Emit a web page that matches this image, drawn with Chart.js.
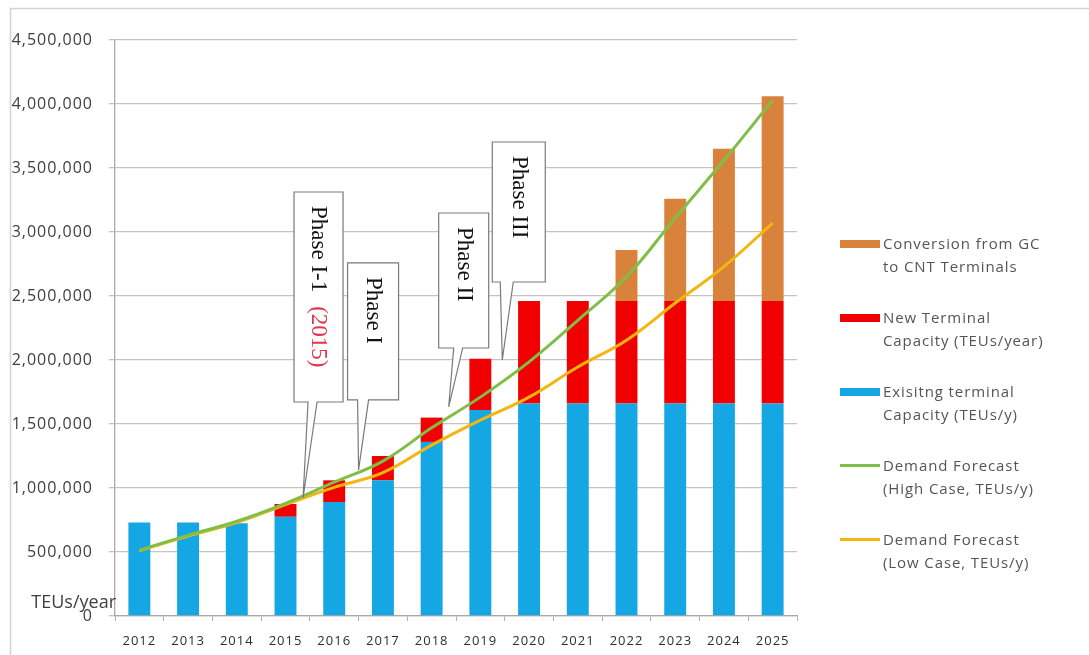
<!DOCTYPE html>
<html>
<head>
<meta charset="utf-8">
<title>Terminal capacity vs demand forecast</title>
<script src="https://cdn.jsdelivr.net/npm/chart.js@4.4.1/dist/chart.umd.min.js"></script>
<style>
    html, body {
        margin: 0;
        padding: 0;
        background: #ffffff;
    }
    #wrap {
        position: relative;
        width: 1089px;
        height: 655px;
        overflow: hidden;
    }
    #legend {
        position: absolute;
        left: 840px;
        top: 232px;
        font-family: "Open Sans", sans-serif;
        font-size: 15px;
        letter-spacing: 0.9px;
        color: #555555;
    }
    .item {
        display: flex;
        align-items: flex-start;
        margin-bottom: 28px;
        line-height: 23px;
    }
    .swatch {
        width: 40px;
        margin-right: 3px;
        flex: none;
    }
</style>
</head>
<body>
<div id="wrap">
    <canvas id="chart" width="1089" height="655"></canvas>
    <div id="legend"></div>
</div>
<script>
const years = [
    "2012", "2013", "2014", "2015", "2016", "2017", "2018",
    "2019", "2020", "2021", "2022", "2023", "2024", "2025"
];

const existingCapacity = [
    730000, 730000, 725000, 775000, 890000, 1060000, 1360000,
    1610000, 1660000, 1660000, 1660000, 1660000, 1660000, 1660000
];

const newCapacity = [
    0, 0, 0, 100000, 170000, 190000, 190000,
    400000, 800000, 800000, 800000, 800000, 800000, 800000
];

const conversionCapacity = [
    0, 0, 0, 0, 0, 0, 0,
    0, 0, 0, 400000, 800000, 1190000, 1600000
];

const highDemand = [
    515000, 630000, 740000, 880000, 1045000, 1210000, 1470000,
    1710000, 1985000, 2310000, 2650000, 3110000, 3560000, 4030000
];

const lowDemand = [
    510000, 625000, 730000, 870000, 1005000, 1120000, 1335000,
    1530000, 1710000, 1945000, 2155000, 2445000, 2730000, 3070000
];

// callouts: tip anchored on the scales (year index, TEUs), box offset in px from the tip
const phaseCallouts = [
    { text: "Phase I-1", extra: "(2015)", at: 3.36, value: 922000,
      left: -9, width: 49, top: -306, height: 210, base: [5, 14] },
    { text: "Phase I", at: 4.5, value: 1141000,
      left: -11, width: 51, top: -207, height: 137, base: [-1, 10] },
    { text: "Phase II", at: 6.35, value: 1633000,
      left: -10, width: 50, top: -194, height: 135, base: [5, 14] },
    { text: "Phase III", at: 7.45, value: 2000000,
      left: -10, width: 53, top: -218, height: 140, base: [-2, 11] }
];

const legendOrder = [4, 3, 2, 0, 1];

const extrasPlugin = {
    id: "extras",
    beforeDraw(chart) {
        const ctx = chart.ctx;
        ctx.save();
        ctx.strokeStyle = "#d2d2d2";
        ctx.lineWidth = 1.5;
        ctx.strokeRect(10.5, 8.5, 1200, 800);
        ctx.restore();
        // axis labels in the original are loosely spaced
        ctx.letterSpacing = "1px";
    },
    beforeDatasetsDraw(chart) {
        chart.ctx.letterSpacing = "0px";
    },
    afterDatasetsDraw(chart) {
        const ctx = chart.ctx;
        const x = chart.scales.x;
        const y = chart.scales.y;

        phaseCallouts.forEach((c) => {
            const tx = x.getPixelForValue(c.at);
            const ty = y.getPixelForValue(c.value);
            const l = tx + c.left;
            const r = l + c.width;
            const t = ty + c.top;
            const b = t + c.height;

            ctx.save();
            ctx.beginPath();
            ctx.moveTo(l, t);
            ctx.lineTo(r, t);
            ctx.lineTo(r, b);
            ctx.lineTo(tx + c.base[1], b);
            ctx.lineTo(tx, ty);
            ctx.lineTo(tx + c.base[0], b);
            ctx.lineTo(l, b);
            ctx.closePath();
            ctx.fillStyle = "#ffffff";
            ctx.fill();
            ctx.strokeStyle = "#7a7a7a";
            ctx.lineWidth = 1.2;
            ctx.stroke();

            ctx.translate((l + r) / 2, t + 14);
            ctx.rotate(Math.PI / 2);
            ctx.font = "23px 'Liberation Serif', serif";
            ctx.textAlign = "left";
            ctx.textBaseline = "middle";
            ctx.fillStyle = "#111111";
            ctx.fillText(c.text, 0, 0);
            if (c.extra) {
                const w = ctx.measureText(c.text).width;
                ctx.fillStyle = "#e0344a";
                ctx.fillText(c.extra, w + 14, 0);
            }
            ctx.restore();
        });

        ctx.save();
        ctx.font = "18px 'Open Sans', sans-serif";
        ctx.fillStyle = "#404040";
        ctx.textAlign = "right";
        ctx.textBaseline = "middle";
        ctx.fillText("TEUs/year", chart.chartArea.left + 1, chart.chartArea.bottom - 13);
        ctx.restore();
    }
};

function buildLegend(chart) {
    const box = document.getElementById("legend");
    box.innerHTML = "";
    legendOrder.forEach((i) => {
        const ds = chart.data.datasets[i];
        const item = document.createElement("div");
        item.className = "item";

        const sw = document.createElement("div");
        sw.className = "swatch";
        const h = ds.type === "line" ? 3 : 8;
        sw.style.height = h + "px";
        sw.style.marginTop = ((23 - h) / 2) + "px";
        sw.style.background = ds.type === "line" ? ds.borderColor : ds.backgroundColor;

        const txt = document.createElement("div");
        txt.innerHTML = ds.legendLines.join("<br>");

        item.appendChild(sw);
        item.appendChild(txt);
        box.appendChild(item);
    });
}

const chart = new Chart(document.getElementById("chart"), {
    data: {
        labels: years,
        datasets: [
            {
                type: "line",
                label: "Demand Forecast (High Case, TEUs/y)",
                legendLines: ["Demand Forecast", "(High Case, TEUs/y)"],
                data: highDemand,
                stack: "high",
                borderColor: "#80bf47",
                borderWidth: 3,
                pointRadius: 0,
                tension: 0.4,
                fill: false
            },
            {
                type: "line",
                label: "Demand Forecast (Low Case, TEUs/y)",
                legendLines: ["Demand Forecast", "(Low Case, TEUs/y)"],
                data: lowDemand,
                stack: "low",
                borderColor: "#f5b50f",
                borderWidth: 3,
                pointRadius: 0,
                tension: 0.4,
                fill: false
            },
            {
                type: "bar",
                label: "Exisitng terminal Capacity (TEUs/y)",
                legendLines: ["Exisitng terminal", "Capacity (TEUs/y)"],
                data: existingCapacity,
                backgroundColor: "#15a6e4",
                stack: "cap",
                barPercentage: 0.45,
                categoryPercentage: 1
            },
            {
                type: "bar",
                label: "New Terminal Capacity (TEUs/year)",
                legendLines: ["New Terminal", "Capacity (TEUs/year)"],
                data: newCapacity,
                backgroundColor: "#f00000",
                stack: "cap",
                barPercentage: 0.45,
                categoryPercentage: 1
            },
            {
                type: "bar",
                label: "Conversion from GC to CNT Terminals",
                legendLines: ["Conversion from GC", "to CNT Terminals"],
                data: conversionCapacity,
                backgroundColor: "#d9823b",
                stack: "cap",
                barPercentage: 0.45,
                categoryPercentage: 1
            }
        ]
    },
    options: {
        responsive: false,
        animation: false,
        layout: {
            padding: { left: 0, right: 292, top: 40, bottom: 0 }
        },
        scales: {
            x: {
                stacked: true,
                offset: true,
                afterFit(scale) { scale.height = 39; },
                grid: {
                    offset: true,
                    drawOnChartArea: false,
                    drawTicks: true,
                    tickLength: 5,
                    color: "#b0b0b0"
                },
                border: { color: "#a8a8a8", width: 1.3 },
                ticks: {
                    color: "#2e2e2e",
                    padding: 12,
                    font: { family: "'Open Sans', sans-serif", size: 13 }
                }
            },
            y: {
                stacked: true,
                min: 0,
                max: 4500000,
                afterFit(scale) { scale.width = 115; },
                grid: {
                    color: "#c4c4c4",
                    lineWidth: 1.3,
                    tickLength: 6
                },
                border: { color: "#a8a8a8", width: 1.3 },
                ticks: {
                    stepSize: 500000,
                    color: "#404040",
                    padding: 16,
                    font: { family: "'Open Sans', sans-serif", size: 16 },
                    callback: (v) => v.toLocaleString("en-US")
                }
            }
        },
        plugins: {
            legend: { display: false },
            tooltip: { enabled: false }
        }
    },
    plugins: [extrasPlugin]
});

buildLegend(chart);
</script>
</body>
</html>
